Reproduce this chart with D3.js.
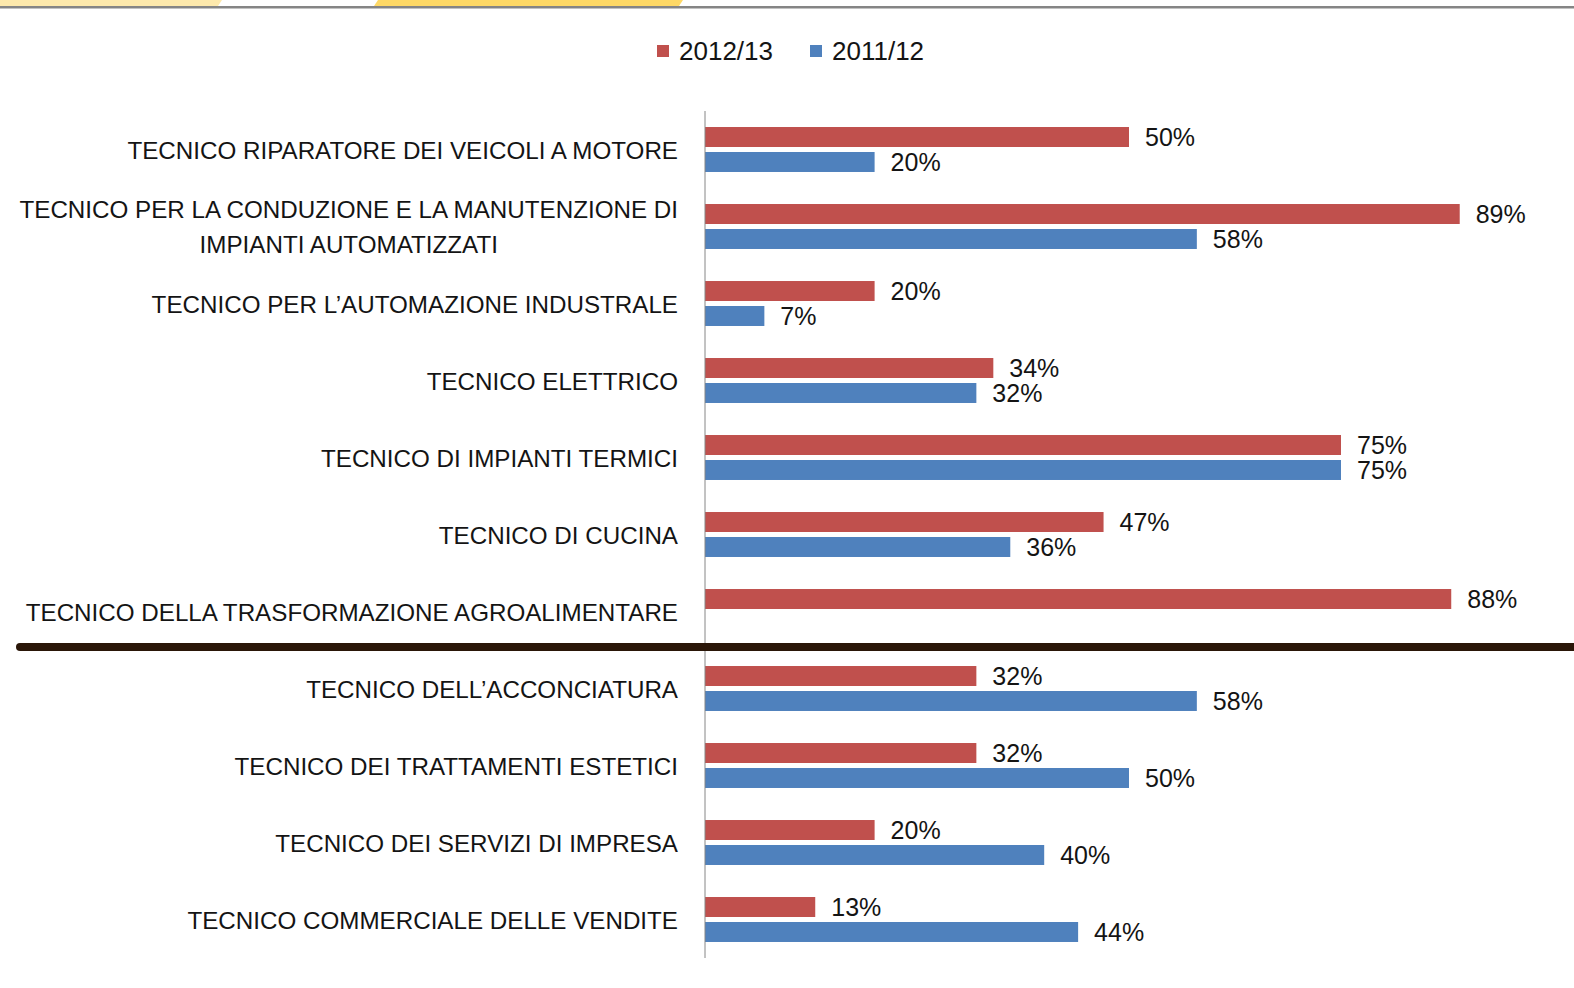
<!DOCTYPE html>
<html>
<head>
  <meta charset="utf-8"/>
  <style>
    body { margin: 0; background: #fff; }
    svg { display: block; font-family: "Liberation Sans", Arial, sans-serif; }
    text { fill: #141414; }
  </style>
</head>
<body>
  <div id="chart"></div>
  <script src="https://d3js.org/d3.v7.min.js"></script>
  <script>
    let categories = [
      'TECNICO RIPARATORE DEI VEICOLI A MOTORE',
      'TECNICO PER LA CONDUZIONE E LA MANUTENZIONE DI\nIMPIANTI AUTOMATIZZATI',
      'TECNICO PER L\u2019AUTOMAZIONE INDUSTRALE',
      'TECNICO ELETTRICO',
      'TECNICO DI IMPIANTI TERMICI',
      'TECNICO DI CUCINA',
      'TECNICO DELLA TRASFORMAZIONE AGROALIMENTARE',
      'TECNICO DELL\u2019ACCONCIATURA',
      'TECNICO DEI TRATTAMENTI ESTETICI',
      'TECNICO DEI SERVIZI DI IMPRESA',
      'TECNICO COMMERCIALE DELLE VENDITE'
    ];
    let series = ['2012/13', '2011/12'];
    let values2012 = [50, 89, 20, 34, 75, 47, 88, 32, 32, 20, 13];
    let values2011 = [20, 58, 7, 32, 75, 36, null, 58, 50, 40, 44];
    let colors = ['#c0504d', '#4f81bd'];

    let width = 1574, height = 988;
    let plotLeft = 705, plotTop = 111, plotBottom = 958;

    let svg = d3.select('#chart')
        .append('svg')
        .attr('width', width)
        .attr('height', height);

    // top decoration strip
    svg.append('polygon')
        .attr('points', '0,0 222,0 218,6 0,6')
        .attr('fill', '#fde9ac');
    svg.append('polygon')
        .attr('points', '378,0 683,0 679,6 374,6')
        .attr('fill', '#ffd966');
    svg.append('rect')
        .attr('x', 0).attr('y', 6)
        .attr('width', width).attr('height', 2.5)
        .attr('fill', '#858585');

    let x = d3.scaleLinear()
        .domain([0, 100])
        .range([plotLeft, plotLeft + 848]);

    let y = d3.scaleBand()
        .domain(categories)
        .range([plotTop, plotBottom])
        .paddingInner(0.416)
        .paddingOuter(0.208);

    let ySub = d3.scaleBand()
        .domain(series)
        .range([0, y.bandwidth()])
        .paddingInner(0.2);

    let rows = categories.map(function (c, i) {
      return {cat: c, vals: [values2012[i], values2011[i]]};
    });

    let groups = svg.selectAll('.row')
        .data(rows)
        .enter()
        .append('g')
        .attr('class', 'row')
        .attr('transform', d => 'translate(0,' + y(d.cat) + ')');

    let bars = groups.selectAll('.bar')
        .data(d => d.vals.map((v, j) => ({s: series[j], v: v, j: j})).filter(e => e.v != null))
        .enter();

    bars.append('rect')
        .attr('x', x(0))
        .attr('y', d => ySub(d.s))
        .attr('width', d => x(d.v) - x(0))
        .attr('height', ySub.bandwidth())
        .attr('fill', d => colors[d.j]);

    bars.append('text')
        .attr('x', d => x(d.v) + 16)
        .attr('y', d => ySub(d.s) + ySub.bandwidth() / 2)
        .attr('dy', '0.36em')
        .attr('font-size', 25)
        .text(d => d.v + '%');

    // category labels
    groups.each(function (d) {
      let lines = d.cat.split('\n');
      let t = d3.select(this).append('text')
          .attr('font-size', 24.2)
          .attr('text-anchor', 'middle');
      let lh = 35;
      let y0 = y.bandwidth() / 2 - (lines.length - 1) * lh / 2 + 0.5;
      lines.forEach(function (l, k) {
        t.append('tspan')
            .attr('y', y0 + k * lh)
            .attr('dy', '0.36em')
            .text(l);
      });
      let w = d3.max(t.selectAll('tspan').nodes(), n => n.getComputedTextLength());
      t.selectAll('tspan').attr('x', 678 - w / 2);
    });

    // vertical axis line
    svg.append('line')
        .attr('x1', x(0)).attr('x2', x(0))
        .attr('y1', plotTop).attr('y2', plotBottom)
        .attr('stroke', '#868686')
        .attr('stroke-width', 1);

    // separator between the two groups
    let sepY = y(categories[7]) - y.step() * y.paddingInner() / 2 - 3;
    svg.append('line')
        .attr('x1', 20).attr('x2', width + 10)
        .attr('y1', sepY).attr('y2', sepY)
        .attr('stroke', '#2a1608')
        .attr('stroke-width', 8)
        .attr('stroke-linecap', 'round');

    // legend
    let legendX = [657, 810];
    let legend = svg.selectAll('.legend')
        .data(series)
        .enter()
        .append('g')
        .attr('transform', (d, i) => 'translate(' + legendX[i] + ',45)');
    legend.append('rect')
        .attr('width', 12).attr('height', 12)
        .attr('fill', (d, i) => colors[i]);
    legend.append('text')
        .attr('x', 22).attr('y', 6)
        .attr('dy', '0.36em')
        .attr('font-size', 26)
        .text(d => d);
  </script>
</body>
</html>
